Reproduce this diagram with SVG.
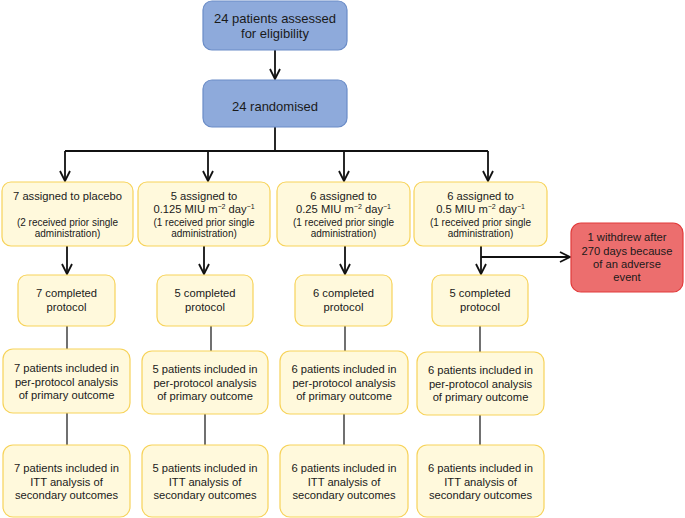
<svg xmlns="http://www.w3.org/2000/svg" width="685" height="518" viewBox="0 0 685 518">
<style>
text{font-family:"Liberation Sans",Arial,sans-serif;fill:#1a1a1a;text-anchor:middle}
.t13{font-size:13px}
.t11{font-size:11.2px}
.t10{font-size:10px}
.sup{font-size:7px}
.blue{fill:#8eaadb;stroke:#6a8cc7;stroke-width:1.2}
.yel{fill:#fff9dc;stroke:#f7d35a;stroke-width:1.2}
.red{fill:#ec6e6e;stroke:#e23b3b;stroke-width:1.2}
.ln{stroke:#111;stroke-width:1.8;fill:none}
.thin{stroke:#111;stroke-width:1.2;fill:none}
</style>
<defs>
<marker id="ar" viewBox="0 0 12 12" refX="11" refY="6" markerWidth="12" markerHeight="12" markerUnits="userSpaceOnUse" orient="auto">
<path d="M1,1 L11,6 L1,11" fill="none" stroke="#111" stroke-width="1.8"/>
</marker>
</defs>
<g id="connectors">
<line class="ln" x1="275" y1="50" x2="275" y2="79" marker-end="url(#ar)"/>
<polyline class="ln" points="275,127 275,151"/>
<polyline class="ln" points="65,151 488,151"/>
<line class="ln" x1="65" y1="151" x2="65" y2="181" marker-end="url(#ar)"/>
<line class="ln" x1="208" y1="151" x2="208" y2="181" marker-end="url(#ar)"/>
<line class="ln" x1="344" y1="151" x2="344" y2="181" marker-end="url(#ar)"/>
<line class="ln" x1="488" y1="151" x2="488" y2="181" marker-end="url(#ar)"/>
<line class="ln" x1="67" y1="246" x2="67" y2="274" marker-end="url(#ar)"/>
<line class="ln" x1="204" y1="246" x2="204" y2="274" marker-end="url(#ar)"/>
<line class="ln" x1="345" y1="246" x2="345" y2="274" marker-end="url(#ar)"/>
<line class="ln" x1="481" y1="246" x2="481" y2="274" marker-end="url(#ar)"/>
<line class="ln" x1="481" y1="257" x2="570" y2="257" marker-end="url(#ar)"/>
<line class="thin" x1="67" y1="326" x2="67" y2="349"/>
<line class="thin" x1="211" y1="326" x2="211" y2="351"/>
<line class="thin" x1="345" y1="326" x2="345" y2="351"/>
<line class="thin" x1="480" y1="326" x2="480" y2="352"/>
<line class="thin" x1="67" y1="413" x2="67" y2="445"/>
<line class="thin" x1="205" y1="414" x2="205" y2="445"/>
<line class="thin" x1="344" y1="414" x2="344" y2="445"/>
<line class="thin" x1="480" y1="415" x2="480" y2="445"/>
</g>
<g id="n-assessed">
<rect class="blue" x="203" y="1" width="144" height="49" rx="9"/>
<text class="t13" x="275" y="23">24 patients assessed</text>
<text class="t13" x="275" y="38">for eligibility</text>
</g>
<g id="n-randomised">
<rect class="blue" x="203" y="80" width="144" height="47" rx="9"/>
<text class="t13" x="275" y="111">24 randomised</text>
</g>
<g id="n-placebo">
<rect class="yel" x="2" y="182" width="131" height="64" rx="9"/>
<text class="t11" x="67.5" y="200">7 assigned to placebo</text>
<text class="t10" x="67.5" y="225.5">(2 received prior single</text>
<text class="t10" x="67.5" y="236.5">administration)</text>
</g>
<g id="n-d0125">
<rect class="yel" x="138" y="182" width="132" height="64" rx="9"/>
<text class="t11" x="204" y="200">5 assigned to</text>
<text class="t11" x="204" y="213">0.125 MIU m<tspan class="sup" dy="-4">−2</tspan><tspan dy="4"> day</tspan><tspan class="sup" dy="-4">−1</tspan></text>
<text class="t10" x="204" y="225.5">(1 received prior single</text>
<text class="t10" x="204" y="236.5">administration)</text>
</g>
<g id="n-d025">
<rect class="yel" x="277" y="182" width="133" height="64" rx="9"/>
<text class="t11" x="343.5" y="200">6 assigned to</text>
<text class="t11" x="343.5" y="213">0.25 MIU m<tspan class="sup" dy="-4">−2</tspan><tspan dy="4"> day</tspan><tspan class="sup" dy="-4">−1</tspan></text>
<text class="t10" x="343.5" y="225.5">(1 received prior single</text>
<text class="t10" x="343.5" y="236.5">administration)</text>
</g>
<g id="n-d05">
<rect class="yel" x="414" y="182" width="133" height="64" rx="9"/>
<text class="t11" x="480.5" y="200">6 assigned to</text>
<text class="t11" x="480.5" y="213">0.5 MIU m<tspan class="sup" dy="-4">−2</tspan><tspan dy="4"> day</tspan><tspan class="sup" dy="-4">−1</tspan></text>
<text class="t10" x="480.5" y="225.5">(1 received prior single</text>
<text class="t10" x="480.5" y="236.5">administration)</text>
</g>
<g id="n-withdrew">
<rect class="red" x="571" y="223" width="112" height="69" rx="10"/>
<text class="t11" x="627" y="241">1 withdrew after</text>
<text class="t11" x="627" y="255">270 days because</text>
<text class="t11" x="627" y="268">of an adverse</text>
<text class="t11" x="627" y="281">event</text>
</g>
<g id="n-c1">
<rect class="yel" x="18" y="275" width="97" height="51" rx="9"/>
<text class="t11" x="66.5" y="297">7 completed</text>
<text class="t11" x="66.5" y="311">protocol</text>
</g>
<g id="n-c2">
<rect class="yel" x="157" y="275" width="96" height="51" rx="9"/>
<text class="t11" x="205" y="297">5 completed</text>
<text class="t11" x="205" y="311">protocol</text>
</g>
<g id="n-c3">
<rect class="yel" x="295" y="275" width="97" height="51" rx="9"/>
<text class="t11" x="343.5" y="297">6 completed</text>
<text class="t11" x="343.5" y="311">protocol</text>
</g>
<g id="n-c4">
<rect class="yel" x="432" y="275" width="96" height="51" rx="9"/>
<text class="t11" x="480" y="297">5 completed</text>
<text class="t11" x="480" y="311">protocol</text>
</g>
<g id="n-pp1">
<rect class="yel" x="3" y="349" width="127" height="64" rx="10"/>
<text class="t11" x="66.5" y="372">7 patients included in</text>
<text class="t11" x="66.5" y="385.5">per-protocol analysis</text>
<text class="t11" x="66.5" y="399">of primary outcome</text>
</g>
<g id="n-pp2">
<rect class="yel" x="142" y="351" width="126" height="63" rx="10"/>
<text class="t11" x="205" y="373">5 patients included in</text>
<text class="t11" x="205" y="386.5">per-protocol analysis</text>
<text class="t11" x="205" y="400">of primary outcome</text>
</g>
<g id="n-pp3">
<rect class="yel" x="280" y="351" width="128" height="63" rx="10"/>
<text class="t11" x="344" y="373">6 patients included in</text>
<text class="t11" x="344" y="386.5">per-protocol analysis</text>
<text class="t11" x="344" y="400">of primary outcome</text>
</g>
<g id="n-pp4">
<rect class="yel" x="417" y="352" width="127" height="63" rx="10"/>
<text class="t11" x="480.5" y="374">6 patients included in</text>
<text class="t11" x="480.5" y="387.5">per-protocol analysis</text>
<text class="t11" x="480.5" y="401">of primary outcome</text>
</g>
<g id="n-itt1">
<rect class="yel" x="3" y="445" width="127" height="72" rx="10"/>
<text class="t11" x="66.5" y="472">7 patients included in</text>
<text class="t11" x="66.5" y="485.5">ITT analysis of</text>
<text class="t11" x="66.5" y="499">secondary outcomes</text>
</g>
<g id="n-itt2">
<rect class="yel" x="142" y="445" width="126" height="72" rx="10"/>
<text class="t11" x="205" y="472">5 patients included in</text>
<text class="t11" x="205" y="485.5">ITT analysis of</text>
<text class="t11" x="205" y="499">secondary outcomes</text>
</g>
<g id="n-itt3">
<rect class="yel" x="280" y="445" width="128" height="72" rx="10"/>
<text class="t11" x="344" y="472">6 patients included in</text>
<text class="t11" x="344" y="485.5">ITT analysis of</text>
<text class="t11" x="344" y="499">secondary outcomes</text>
</g>
<g id="n-itt4">
<rect class="yel" x="417" y="445" width="127" height="72" rx="10"/>
<text class="t11" x="480.5" y="472">6 patients included in</text>
<text class="t11" x="480.5" y="485.5">ITT analysis of</text>
<text class="t11" x="480.5" y="499">secondary outcomes</text>
</g>
</svg>
